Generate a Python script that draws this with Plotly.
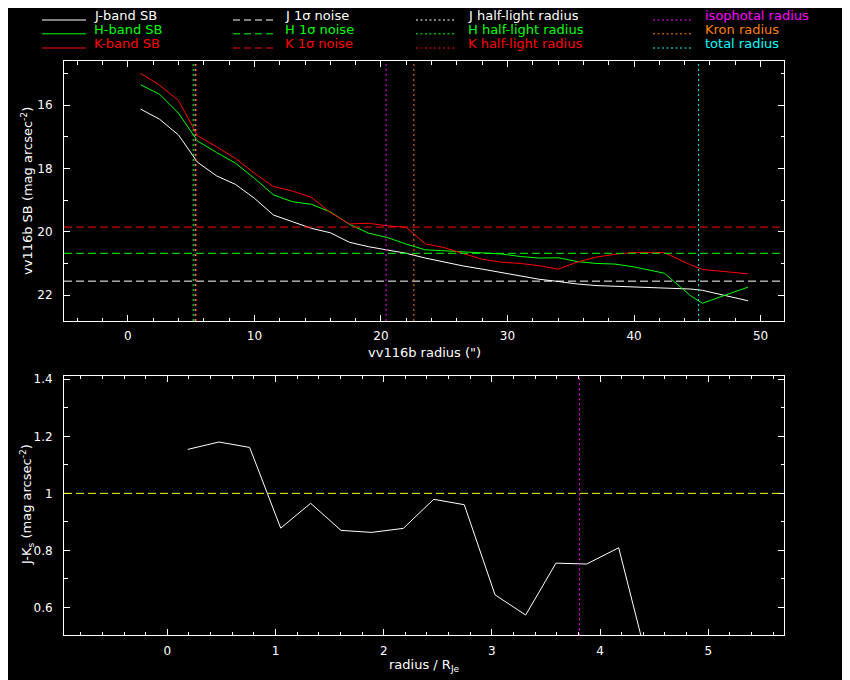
import plotly.graph_objects as go

# surface brightness profiles of vv116b (mag arcsec^-2) against radius (arcsec)
radius = [1.0, 2.5, 4.0, 5.5, 7.0, 8.5, 10.0, 11.5, 13.0, 14.5,
          16.0, 17.5, 19.0, 20.5, 22.0, 23.5, 25.0, 26.5, 28.0, 29.5,
          31.0, 32.5, 34.0, 35.5, 37.0, 38.5, 40.0, 41.5, 42.4, 44.5,
          45.4, 47.5, 49.0]
sb_j = [16.12, 16.44, 16.94, 17.80, 18.23, 18.50, 18.94, 19.47, 19.68, 19.89,
        20.03, 20.33, 20.47, 20.57, 20.68, 20.83, 20.96, 21.08, 21.18, 21.29,
        21.39, 21.50, 21.57, 21.65, 21.70, 21.72, 21.73, 21.75, 21.77, 21.81,
        21.85, 22.03, 22.18]
sb_h = [15.35, 15.65, 16.25, 17.13, 17.49, 17.83, 18.31, 18.83, 19.05, 19.13,
        19.37, 19.76, 20.04, 20.18, 20.39, 20.57, 20.60, 20.63, 20.68, 20.70,
        20.78, 20.83, 20.82, 20.94, 21.00, 21.02, 21.11, 21.23, 21.31, 22.03,
        22.26, 21.96, 21.75]
sb_k = [14.99, 15.36, 15.85, 16.96, 17.31, 17.68, 18.15, 18.57, 18.71, 18.91,
        19.39, 19.75, 19.73, 19.81, 19.86, 20.38, 20.50, 20.68, 20.87, 20.96,
        21.00, 21.07, 21.18, 20.96, 20.80, 20.71, 20.65, 20.65, 20.66, 21.05,
        21.19, 21.27, 21.33]

# 1 sigma noise levels
noise_j = 21.56
noise_h = 20.68
noise_k = 19.85

# radii (arcsec)
half_light_j = 5.32
half_light_h = 5.16
half_light_k = 5.40
isophotal_radius = 20.4
kron_radius = 22.6
total_radius = 45.1

# J-Ks colour against radius / R_Je
colour_r = [0.188, 0.478, 0.761, 1.048, 1.325, 1.605, 1.889, 2.181, 2.462, 2.745,
            3.029, 3.312, 3.592, 3.876, 4.172, 4.455]
colour_jk = [1.154, 1.180, 1.161, 0.878, 0.965, 0.870, 0.863, 0.877, 0.979, 0.960,
             0.644, 0.573, 0.755, 0.752, 0.809, 0.385]
colour_ref = 1.0
isophotal_scaled = 3.81

WHITE = '#ffffff'
GREEN = '#00ff00'
RED = '#ff0000'
MAGENTA = '#ff00ff'
ORANGE = '#ff8000'
CYAN = '#00ffff'
YELLOW = '#ffff00'
FONT = 'DejaVu Sans'
# the page body adds an 8px margin, so the figure is a bit smaller than the window
OFF = 8
W, H = 850 - OFF, 680 - OFF
DASH = '8px,4px'
DOT = '2px,3px'


def px(x):
    return (x - OFF) / W


def py(y):
    return 1 - (y - OFF) / H


fig = go.Figure()

for sb, col in [(sb_j, WHITE), (sb_h, GREEN), (sb_k, RED)]:
    fig.add_trace(go.Scatter(x=radius, y=sb, mode='lines', line=dict(color=col, width=1),
                             showlegend=False, xaxis='x', yaxis='y'))

fig.add_trace(go.Scatter(x=colour_r, y=colour_jk, mode='lines', line=dict(color=WHITE, width=1),
                         showlegend=False, xaxis='x2', yaxis='y2'))

for v, col in [(noise_j, WHITE), (noise_h, GREEN), (noise_k, RED)]:
    fig.add_shape(type='line', xref='x domain', yref='y', x0=0, x1=1, y0=v, y1=v,
                  line=dict(color=col, width=1, dash=DASH))
for v, col in [(half_light_h, GREEN), (half_light_j, WHITE), (half_light_k, RED),
               (isophotal_radius, MAGENTA), (kron_radius, ORANGE), (total_radius, CYAN)]:
    fig.add_shape(type='line', xref='x', yref='y domain', x0=v, x1=v, y0=0, y1=1,
                  line=dict(color=col, width=1, dash=DOT))

fig.add_shape(type='line', xref='x2 domain', yref='y2', x0=0, x1=1, y0=colour_ref, y1=colour_ref,
              line=dict(color=YELLOW, width=1, dash=DASH))
fig.add_shape(type='line', xref='x2', yref='y2 domain', x0=isophotal_scaled, x1=isophotal_scaled,
              y0=0, y1=1, line=dict(color=MAGENTA, width=1, dash=DOT))

# legend drawn by hand, four columns of three rows
legend = [
    ('J-band SB', WHITE, 'solid', 0, 0), ('H-band SB', GREEN, 'solid', 0, 1), ('K-band SB', RED, 'solid', 0, 2),
    ('J 1σ noise', WHITE, '7px,4px', 1, 0), ('H 1σ noise', GREEN, '7px,4px', 1, 1),
    ('K 1σ noise', RED, '7px,4px', 1, 2),
    ('J half-light radius', WHITE, '2px,2.5px', 2, 0), ('H half-light radius', GREEN, '2px,2.5px', 2, 1),
    ('K half-light radius', RED, '2px,2.5px', 2, 2),
    ('isophotal radius', MAGENTA, '2px,2.5px', 3, 0), ('Kron radius', ORANGE, '2px,2.5px', 3, 1),
    ('total radius', CYAN, '2px,2.5px', 3, 2),
]
col_line = [(42, 86), (233, 277), (416, 455), (653, 693)]
col_text = [92, 283, 466, 703]
row_line = [20.0, 33.8, 48.0]
row_text = [16.0, 29.8, 43.8]
for text, col, dash, c, r in legend:
    fig.add_shape(type='line', xref='paper', yref='paper',
                  x0=px(col_line[c][0]), x1=px(col_line[c][1]), y0=py(row_line[r]), y1=py(row_line[r]),
                  line=dict(color=col, width=1, dash=dash))
    fig.add_annotation(text=text, xref='paper', yref='paper', x=px(col_text[c]), y=py(row_text[r]),
                       xanchor='left', yanchor='middle', showarrow=False,
                       font=dict(family=FONT, size=13, color=col))

# axis titles
titles = [
    ('vv116b radius (")', px(424), py(352), 0),
    ('vv116b SB (mag arcsec<sup>-2</sup>)', px(27), py(191), -90),
    ('radius / R<sub>Je</sub>', px(424), py(665), 0),
    ('J-K<sub>s</sub> (mag arcsec<sup>-2</sup>)', px(27), py(505), -90),
]
for text, x, y, ang in titles:
    fig.add_annotation(text=text, xref='paper', yref='paper', x=x, y=y, xanchor='center', yanchor='middle',
                       textangle=ang, showarrow=False, font=dict(family=FONT, size=13, color=WHITE))

axis_style = dict(showgrid=False, zeroline=False, showline=True, linecolor=WHITE, linewidth=1,
                  mirror='allticks', ticks='inside', ticklen=6, tickcolor=WHITE, tickwidth=1,
                  tickfont=dict(family=FONT, size=12, color=WHITE), automargin=False)

fig.update_layout(
    width=W, height=H,
    margin=dict(l=0, r=0, t=0, b=0),
    paper_bgcolor='black', plot_bgcolor='black',
    showlegend=False,
    xaxis=dict(domain=[px(64), px(784)], range=[-5.05, 51.85], dtick=10, anchor='y',
               minor=dict(dtick=2, ticks='inside', ticklen=3.5, tickcolor=WHITE),
               ticklabelstandoff=4, **axis_style),
    yaxis=dict(domain=[py(321), py(61)], range=[22.82, 14.6], dtick=2, tick0=0, anchor='x',
               minor=dict(dtick=1, ticks='inside', ticklen=3.5, tickcolor=WHITE),
               ticklabelstandoff=8, **axis_style),
    xaxis2=dict(domain=[px(64), px(784)], range=[-0.955, 5.70], dtick=1, tick0=0, anchor='y2',
                minor=dict(dtick=0.2, ticks='inside', ticklen=3.5, tickcolor=WHITE),
                ticklabelstandoff=4, **axis_style),
    yaxis2=dict(domain=[py(635.3), py(375.7)], range=[0.502, 1.4126], dtick=0.2, tick0=0, anchor='x2',
                minor=dict(dtick=0.1, ticks='inside', ticklen=3.5, tickcolor=WHITE),
                ticklabelstandoff=8, **axis_style),
)

fig.write_html("out.html")
